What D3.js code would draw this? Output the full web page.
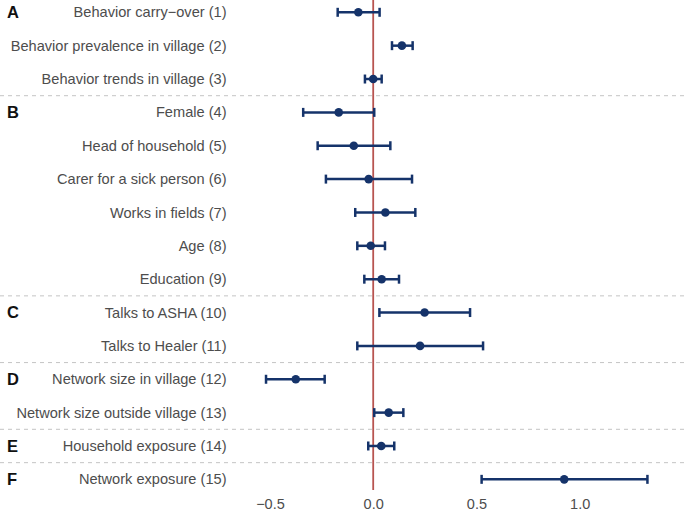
<!DOCTYPE html>
<html>
<head>
<meta charset="utf-8">
<script src="https://cdn.jsdelivr.net/npm/d3@7"></script>
<style>
html,body{margin:0;padding:0;background:#fff;}
svg{display:block;}
</style>
</head>
<body>
<svg id="chart" width="685" height="511"></svg>
<script>
const labels = [
  "Behavior carry\u2212over (1)",
  "Behavior prevalence in village (2)",
  "Behavior trends in village (3)",
  "Female (4)",
  "Head of household (5)",
  "Carer for a sick person (6)",
  "Works in fields (7)",
  "Age (8)",
  "Education (9)",
  "Talks to ASHA (10)",
  "Talks to Healer (11)",
  "Network size in village (12)",
  "Network size outside village (13)",
  "Household exposure (14)",
  "Network exposure (15)"
];
const groups = ["A","A","A","B","B","B","B","B","B","C","C","D","D","E","F"];
const estimates = [-0.072, 0.139, 0.000, -0.167, -0.094, -0.022, 0.059, -0.012, 0.041, 0.249, 0.227, -0.375, 0.075, 0.039, 0.925];
const lower     = [-0.172, 0.091, -0.040, -0.339, -0.269, -0.229, -0.087, -0.077, -0.043, 0.030, -0.077, -0.519, 0.005, -0.024, 0.525];
const upper     = [0.031, 0.191, 0.041, 0.005, 0.083, 0.188, 0.204, 0.057, 0.125, 0.469, 0.532, -0.235, 0.146, 0.102, 1.328];
const xTicks = [-0.5, 0.0, 0.5, 1.0];

const svg = d3.select("#chart");
const W = 685;
const navy = "#15336a";
const rowStep = 33.36;
const firstRowY = 12.3;
const font = "'Liberation Sans', Arial, Helvetica, sans-serif";

const x = d3.scaleLinear().domain([0, 1]).range([373.2, 579.7]);
const y = d3.scaleLinear().domain([0, 1]).range([firstRowY, firstRowY + rowStep]);

// group separators (dashed)
const seps = [];
for (let i = 1; i < groups.length; i++) {
  if (groups[i] !== groups[i-1]) seps.push(i - 0.5);
}
svg.selectAll("line.sep").data(seps).enter().append("line")
  .attr("class","sep")
  .attr("x1", 0).attr("x2", W)
  .attr("y1", d => y(d)).attr("y2", d => y(d))
  .attr("stroke", "#c4c4c4").attr("stroke-width", 1)
  .attr("stroke-dasharray", "4,4");

// zero line
svg.append("line")
  .attr("x1", x(0)).attr("x2", x(0))
  .attr("y1", 0).attr("y2", 490)
  .attr("stroke", "#b85450").attr("stroke-width", 1.8);

const rows = labels.map((l, i) => ({label: l, group: groups[i], est: estimates[i], lo: lower[i], hi: upper[i], i}));

// error bars
const g = svg.append("g");
g.selectAll("line.ci").data(rows).enter().append("line")
  .attr("x1", d => x(d.lo)).attr("x2", d => x(d.hi))
  .attr("y1", d => y(d.i)).attr("y2", d => y(d.i))
  .attr("stroke", navy).attr("stroke-width", 2.5);
g.selectAll("line.capl").data(rows).enter().append("line")
  .attr("x1", d => x(d.lo)).attr("x2", d => x(d.lo))
  .attr("y1", d => y(d.i) - 4.5).attr("y2", d => y(d.i) + 4.5)
  .attr("stroke", navy).attr("stroke-width", 2.5);
g.selectAll("line.caph").data(rows).enter().append("line")
  .attr("x1", d => x(d.hi)).attr("x2", d => x(d.hi))
  .attr("y1", d => y(d.i) - 4.5).attr("y2", d => y(d.i) + 4.5)
  .attr("stroke", navy).attr("stroke-width", 2.5);
g.selectAll("circle").data(rows).enter().append("circle")
  .attr("cx", d => x(d.est)).attr("cy", d => y(d.i)).attr("r", 4.3)
  .attr("fill", navy);

// row labels
svg.selectAll("text.lab").data(rows).enter().append("text")
  .attr("x", 226.5).attr("y", d => y(d.i))
  .attr("dy", "0.35em")
  .attr("text-anchor", "end")
  .attr("font-family", font)
  .attr("font-size", "14.6px")
  .attr("fill", "#4d4d4d")
  .text(d => d.label);

// group letters
const firstIdx = rows.filter((d, i) => i === 0 || groups[i] !== groups[i-1]);
svg.selectAll("text.grp").data(firstIdx).enter().append("text")
  .attr("x", 7).attr("y", d => y(d.i))
  .attr("dy", "0.36em")
  .attr("font-family", font)
  .attr("font-size", "16.5px").attr("font-weight", "bold")
  .attr("fill", "#111")
  .text(d => d.group);

// x axis
const axis = d3.axisBottom(x).tickValues(xTicks).tickSize(0).tickPadding(0)
  .tickFormat(d => d3.format(".1f")(d).replace("-", "\u2212"));
const ax = svg.append("g").attr("transform", "translate(0,499)").call(axis);
ax.select(".domain").remove();
ax.selectAll("text")
  .attr("font-family", font)
  .attr("font-size", "14.5px")
  .attr("fill", "#4d4d4d");
</script>
</body>
</html>
